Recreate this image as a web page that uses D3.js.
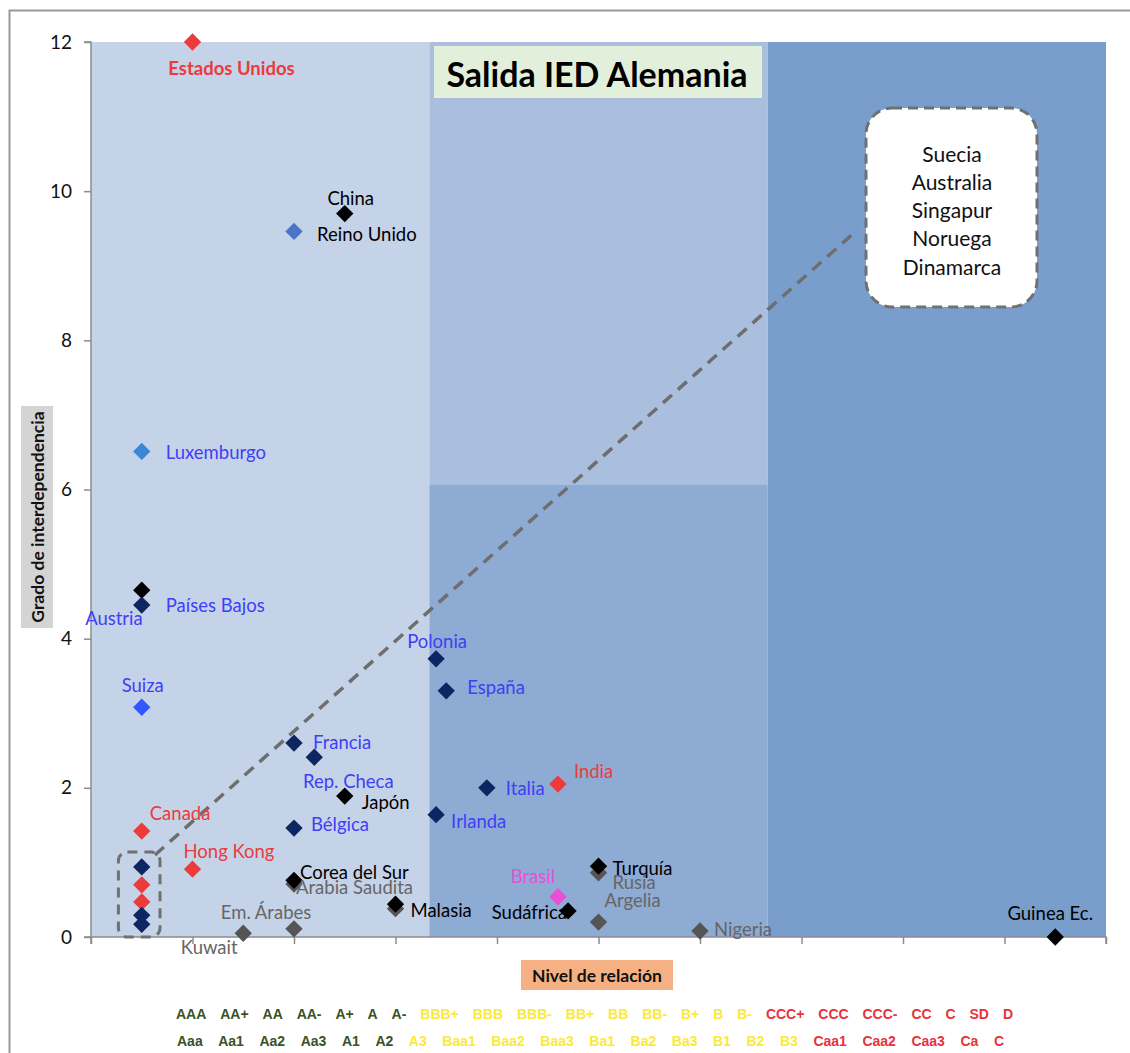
<!doctype html>
<html lang="es">
  <head>
    <meta charset="utf-8">
    <title>Salida IED Alemania</title>
    <script src="https://d3js.org/d3.v7.min.js"></script>
    <style>
      body { margin: 0; background: #fff; }
      svg { display: block; font-family: Lato, "Open Sans", sans-serif; }
    </style>
  </head>
  <body>
    <svg width="1130" height="1053"></svg>
    <script>
      // datos
      var paises = ['Arabia Saudita', 'Em. Árabes', 'Kuwait', 'Malasia (2)', 'Rusia', 'Argelia', 'Nigeria',
        'Estados Unidos', 'China', 'Reino Unido', 'Luxemburgo', 'Austria', 'Países Bajos', 'Suiza',
        'Polonia', 'España', 'Francia', 'Rep. Checa', 'Japón', 'Irlanda', 'Italia', 'India', 'Canada',
        'Bélgica', 'Hong Kong', 'grupo 1', 'grupo 2', 'grupo 3', 'grupo 4', 'grupo 5', 'Corea del Sur',
        'Malasia', 'Sudáfrica', 'Brasil', 'Turquía', 'Guinea Ec.'];
      var nivel = [2, 2, 1.5, 3, 5, 5, 6,
        1, 2.5, 2, 0.5, 0.5, 0.5, 0.5,
        3.4, 3.5, 2, 2.2, 2.5, 3.4, 3.9, 4.6, 0.5,
        2, 1, 0.5, 0.5, 0.5, 0.5, 0.5, 2,
        3, 4.7, 4.6, 5, 9.5];
      var grado = [0.71, 0.11, 0.05, 0.38, 0.86, 0.2, 0.08,
        12, 9.7, 9.46, 6.51, 4.65, 4.45, 3.08,
        3.73, 3.3, 2.6, 2.41, 1.89, 1.64, 2.0, 2.05, 1.42,
        1.46, 0.91, 0.94, 0.7, 0.47, 0.29, 0.17, 0.76,
        0.44, 0.35, 0.54, 0.95, 0];
      var grupo = ['gris', 'gris', 'gris', 'gris', 'gris', 'gris', 'gris',
        'rojo', 'negro', 'azul', 'celeste', 'negro', 'marino', 'brillante',
        'marino', 'marino', 'marino', 'marino', 'negro', 'marino', 'marino', 'rojo', 'rojo',
        'marino', 'rojo', 'marino', 'rojo', 'rojo', 'marino', 'marino', 'negro',
        'negro', 'negro', 'magenta', 'negro', 'negro'];

      var fueraDeEscala = ['Suecia', 'Australia', 'Singapur', 'Noruega', 'Dinamarca'];
      var yTicks = [0, 2, 4, 6, 8, 10, 12];
      var xTicks = [0, 1, 2, 3, 4, 5, 6, 7, 8, 9, 10];
      var zonas = [0, 10 / 3, 20 / 3, 10];
      var corteMedio = 6.07;
      var tendencia = [[0.63, 1.1], [7.55, 9.48]];
      var cajaGrupo = [[0.27, 1.14], [0.68, 0]];

      var calS = ['AAA', 'AA+', 'AA', 'AA-', 'A+', 'A', 'A-', 'BBB+', 'BBB', 'BBB-', 'BB+', 'BB', 'BB-',
        'B+', 'B', 'B-', 'CCC+', 'CCC', 'CCC-', 'CC', 'C', 'SD', 'D'];
      var calM = ['Aaa', 'Aa1', 'Aa2', 'Aa3', 'A1', 'A2', 'A3', 'Baa1', 'Baa2', 'Baa3', 'Ba1', 'Ba2', 'Ba3',
        'B1', 'B2', 'B3', 'Caa1', 'Caa2', 'Caa3', 'Ca', 'C'];

      var colores = {
        gris: '#555555', rojo: '#ec3b3b', negro: '#000000', azul: '#4a74c8', celeste: '#3b86d6',
        marino: '#0d2560', brillante: '#3357ff', magenta: '#ea4fd4'
      };
      var azulT = '#3f3ff5', rojoT = '#ec3b3b', grisT = '#666666';

      // etiquetas: [anchor, dx, dy, color, peso]
      var etiquetas = {
        'Estados Unidos': ['middle', 39, 26, rojoT, 700],
        'China': ['middle', 6, -16, '#000'],
        'Reino Unido': ['start', 23, 3, '#000'],
        'Luxemburgo': ['start', 24, 1, azulT],
        'Países Bajos': ['start', 24, 0, azulT],
        'Austria': ['end', 1, 28, azulT],
        'Suiza': ['middle', 1, -22, azulT],
        'Polonia': ['middle', 1, -18, azulT],
        'España': ['start', 21, -4, azulT],
        'Francia': ['start', 19, -1, azulT],
        'Rep. Checa': ['middle', 34, 24, azulT],
        'Japón': ['start', 17, 6, '#000'],
        'Irlanda': ['start', 15, 6, azulT],
        'Italia': ['start', 19, 0, azulT],
        'India': ['start', 16, -13, rojoT],
        'Canada': ['start', 8, -18, rojoT],
        'Bélgica': ['start', 17, -4, azulT],
        'Hong Kong': ['start', -9, -18, rojoT],
        'Corea del Sur': ['start', 6, -8, '#000'],
        'Arabia Saudita': ['start', 2, 3, grisT],
        'Em. Árabes': ['middle', -28, -17, grisT],
        'Kuwait': ['middle', -34, 14, grisT],
        'Malasia': ['start', 15, 6, '#000'],
        'Sudáfrica': ['end', -1, 1, '#000'],
        'Brasil': ['middle', -25, -21, '#ea4fd4'],
        'Turquía': ['start', 14, 2, '#000'],
        'Rusia': ['start', 14, 9, grisT],
        'Argelia': ['start', 6, -22, grisT],
        'Nigeria': ['start', 14, -2, grisT],
        'Guinea Ec.': ['middle', -5, -24, '#000']
      };

      var svg = d3.select('svg');
      var x = d3.scaleLinear().domain([0, 10]).range([91, 1106]);
      var y = d3.scaleLinear().domain([0, 12]).range([937, 42]);

      // marco exterior
      svg.append('rect')
        .attr('x', 9.5).attr('y', 10.5).attr('width', 1300).attr('height', 1300)
        .attr('fill', 'none').attr('stroke', '#9a9a9a').attr('stroke-width', 2);

      // zonas de fondo
      svg.append('rect')
        .attr('x', x(zonas[0])).attr('y', y(12))
        .attr('width', x(zonas[1]) - x(zonas[0])).attr('height', y(0) - y(12))
        .attr('fill', '#c5d3e8');
      svg.append('rect')
        .attr('x', x(zonas[1])).attr('y', y(12))
        .attr('width', x(zonas[2]) - x(zonas[1])).attr('height', y(corteMedio) - y(12))
        .attr('fill', '#aabfde');
      svg.append('rect')
        .attr('x', x(zonas[1])).attr('y', y(corteMedio))
        .attr('width', x(zonas[2]) - x(zonas[1])).attr('height', y(0) - y(corteMedio))
        .attr('fill', '#8eabd4');
      svg.append('rect')
        .attr('x', x(zonas[2])).attr('y', y(12))
        .attr('width', x(zonas[3]) - x(zonas[2])).attr('height', y(0) - y(12))
        .attr('fill', '#7a9ecc');

      // ejes
      var ejeY = svg.append('g').attr('transform', 'translate(' + x(0) + ',0)')
        .call(d3.axisLeft(y).tickValues(yTicks).tickSize(7).tickPadding(12).tickFormat(d3.format('d')));
      ejeY.selectAll('text').attr('font-size', 19).attr('fill', '#111').style('font-family', 'Lato, sans-serif');

      var ejeX = svg.append('g').attr('transform', 'translate(0,' + y(0) + ')')
        .call(d3.axisBottom(x).tickValues(xTicks).tickSize(7).tickFormat(''));

      svg.selectAll('.domain').attr('stroke', '#8c8c8c').attr('stroke-width', 1.5);
      svg.selectAll('.tick line').attr('stroke', '#8c8c8c').attr('stroke-width', 1.5);
      ejeY.select('.domain').attr('d', 'M-7,' + y(12) + 'H0V' + y(0) + 'H-7');
      ejeX.select('.domain').attr('d', 'M' + x(0) + ',7V0H' + x(10) + 'V7');

      // linea de tendencia
      svg.append('line')
        .attr('x1', x(tendencia[0][0])).attr('y1', y(tendencia[0][1]))
        .attr('x2', x(tendencia[1][0])).attr('y2', y(tendencia[1][1]))
        .attr('stroke', '#6e6e6e').attr('stroke-width', 3.5).attr('stroke-dasharray', '12,8');

      // caja del grupo
      svg.append('rect')
        .attr('x', x(cajaGrupo[0][0])).attr('y', y(cajaGrupo[0][1]))
        .attr('width', x(cajaGrupo[1][0]) - x(cajaGrupo[0][0]))
        .attr('height', y(cajaGrupo[1][1]) - y(cajaGrupo[0][1]))
        .attr('rx', 9)
        .attr('fill', 'none').attr('stroke', '#707070').attr('stroke-width', 3).attr('stroke-dasharray', '10,7');

      // puntos
      var diamante = d3.symbol().type(d3.symbolSquare).size(150);
      svg.append('g').selectAll('path')
        .data(paises)
        .enter()
        .append('path')
          .attr('d', diamante)
          .attr('transform', function(d, i){ return 'translate(' + x(nivel[i]) + ',' + y(grado[i]) + ') rotate(45)'; })
          .attr('fill', function(d, i){ return colores[grupo[i]]; });

      // etiquetas de paises
      svg.append('g').selectAll('text')
        .data(paises.filter(function(d){ return etiquetas[d]; }))
        .enter()
        .append('text')
          .attr('x', function(d){ return x(nivel[paises.indexOf(d)]) + etiquetas[d][1]; })
          .attr('y', function(d){ return y(grado[paises.indexOf(d)]) + etiquetas[d][2]; })
          .attr('text-anchor', function(d){ return etiquetas[d][0]; })
          .attr('dominant-baseline', 'central')
          .attr('font-size', 18.5)
          .attr('font-weight', function(d){ return etiquetas[d][4] || 400; })
          .attr('fill', function(d){ return etiquetas[d][3]; })
          .text(function(d){ return d; });

      // titulo
      svg.append('rect')
        .attr('x', 434).attr('y', 46).attr('width', 328).attr('height', 52)
        .attr('fill', '#e2efda');
      svg.append('text')
        .attr('x', 597).attr('y', 73)
        .attr('text-anchor', 'middle').attr('dominant-baseline', 'central')
        .attr('font-size', 34).attr('font-weight', 700).attr('fill', '#000')
        .text('Salida IED Alemania');

      // recuadro de paises fuera de escala
      svg.append('rect')
        .attr('x', 866).attr('y', 108).attr('width', 171).attr('height', 199)
        .attr('rx', 26)
        .attr('fill', '#fff').attr('stroke', '#707070').attr('stroke-width', 3).attr('stroke-dasharray', '10,6');
      svg.append('g').selectAll('text')
        .data(fueraDeEscala)
        .enter()
        .append('text')
          .attr('x', 952)
          .attr('y', function(d, i){ return 153 + i * 28.3; })
          .attr('text-anchor', 'middle').attr('dominant-baseline', 'central')
          .attr('font-size', 21).attr('fill', '#111')
          .text(function(d){ return d; });

      // titulos de ejes
      var tY = svg.append('g').attr('transform', 'translate(37,517) rotate(-90)');
      tY.append('rect').attr('x', -111).attr('y', -16).attr('width', 222).attr('height', 32).attr('fill', '#d4d4d4');
      tY.append('text').attr('text-anchor', 'middle').attr('dominant-baseline', 'central')
        .attr('font-size', 17.5).attr('font-weight', 700).attr('fill', '#111')
        .text('Grado de interdependencia');

      var tX = svg.append('g').attr('transform', 'translate(597,975)');
      tX.append('rect').attr('x', -76).attr('y', -15).attr('width', 152).attr('height', 30).attr('fill', '#f5b183');
      tX.append('text').attr('text-anchor', 'middle').attr('dominant-baseline', 'central')
        .attr('font-size', 17.5).attr('font-weight', 700).attr('fill', '#111')
        .text('Nivel de relación');

      // filas de calificaciones
      function colorCal(c, i, filas){
        if (filas === 0) return i < 7 ? '#3a5224' : (i < 16 ? '#fbe93a' : '#e8323a');
        return i < 6 ? '#3a5224' : (i < 16 ? '#fbe93a' : '#e8323a');
      }
      function fila(lista, yPos, x0, x1, n){
        var g = svg.append('g');
        var textos = g.selectAll('text')
          .data(lista)
          .enter()
          .append('text')
            .attr('y', yPos)
            .attr('dominant-baseline', 'central')
            .attr('font-family', '"Liberation Sans", Arial, sans-serif')
            .attr('font-size', 14).attr('font-weight', 700)
            .attr('fill', function(d, i){ return colorCal(d, i, n); })
            .text(function(d){ return d; });
        var anchos = [];
        textos.each(function(){ anchos.push(this.getComputedTextLength()); });
        var hueco = (x1 - x0 - d3.sum(anchos)) / (lista.length - 1);
        var pos = x0;
        textos.attr('x', function(d, i){ var p = pos; pos += anchos[i] + hueco; return p; });
      }
      fila(calS, 1014, 176, 1013, 0);
      fila(calM, 1041, 177, 1004, 1);
    </script>
  </body>
</html>
